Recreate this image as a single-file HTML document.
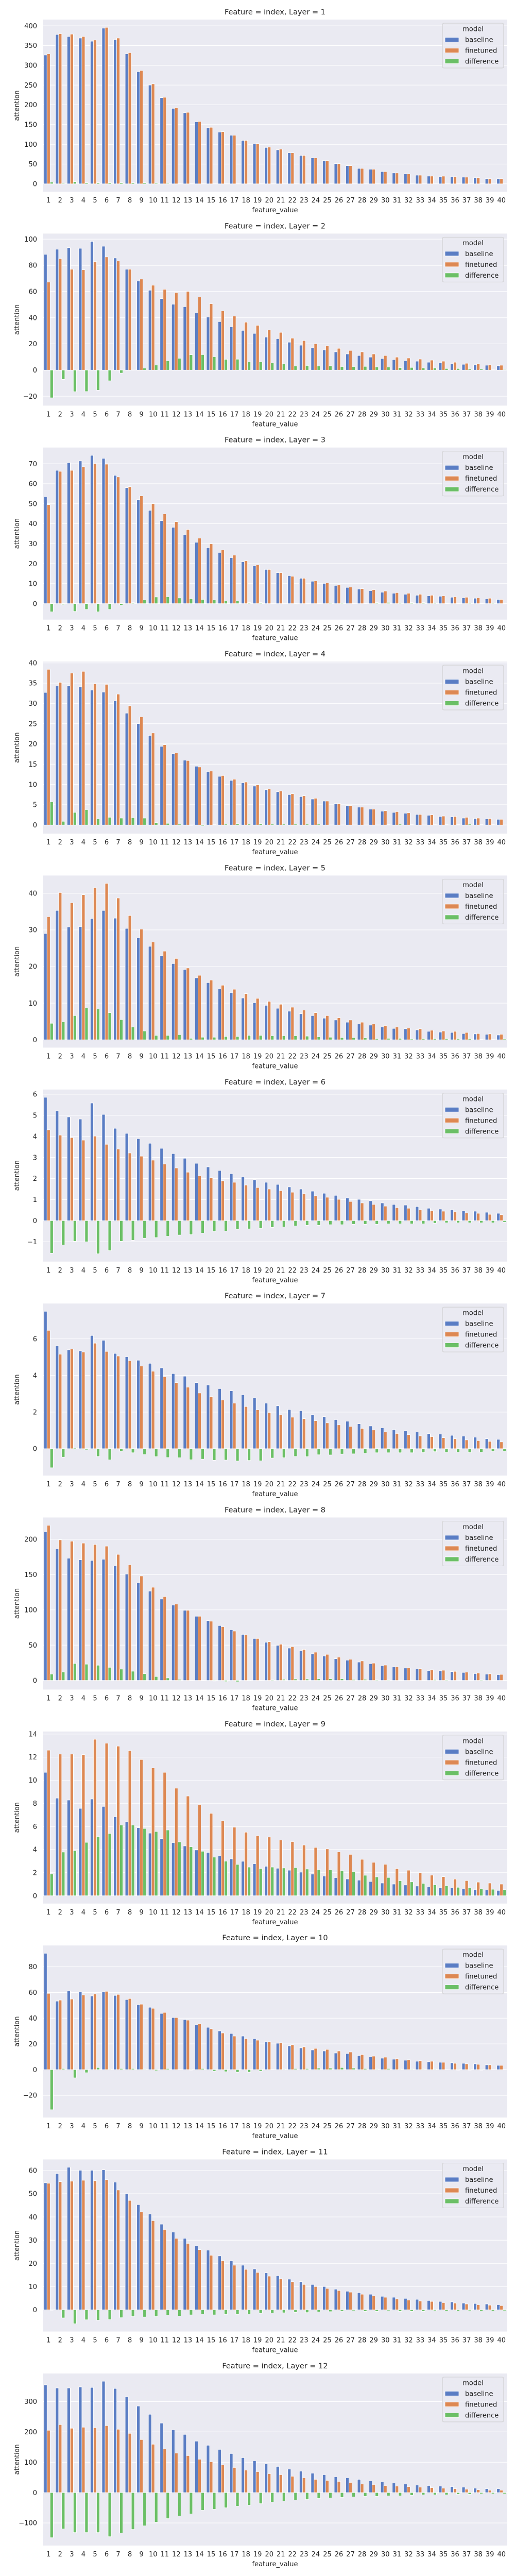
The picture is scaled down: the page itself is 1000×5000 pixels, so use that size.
<!DOCTYPE html>
<html><head><meta charset="utf-8">
<style>
html,body{margin:0;padding:0;background:#fff;}
svg{display:block;font-family:"DejaVu Sans","Liberation Sans",sans-serif;}
</style></head>
<body>
<svg id="fig" width="1000" height="5000" viewBox="0 0 1000 5000" xmlns="http://www.w3.org/2000/svg"></svg>
<script>
const categories = Array.from({length:40},(_,i)=>String(i+1));
const layers = [1,2,3,4,5,6,7,8,9,10,11,12];
const seriesNames = ["baseline","finetuned","difference"];
const tickSteps = [50,20,10,5,10,1,2,50,2,20,10,100];

const base1=[326,378,373,369,361,394,365,329,284,250,218,191,180,157,142,131,123,110,101,92,86,78.5,72,65.5,59,51,46,39,37,31,27.5,25,22,19.6,18,18,17,15.7,13,13];
const fin1=[329,380,379,373,364,396,369,332,287,253,219,193,181,158,143,132,123,110,102,93,88,78.5,72,65.5,59,51,46,39,37,31,27.5,25,22,19.6,19.5,18,17,15.7,13,13];
const diff1=[4.4,1.5,5.5,3,3,3,3,3,3,2,1.5,0.5,0.5,0.5,0.3,0.3,0.3,0.3,0.3,0.3,0.3,0.3,0.3,0.2,0.2,0.2,0.2,0.2,0.2,0.2,0.2,0.2,0.2,0.2,0.2,0.2,0.2,0.2,0.2,0.2];

const base2=[88.4,92.3,93.5,93,98.3,94.6,85.6,77,68,61,54.6,50.3,48.4,44,40.5,37,33,30.3,28,25.2,24,21.3,19,17,15.4,13.9,12.3,11.1,9.9,8.8,8,7.2,6.8,6,5.6,4.8,4.4,4,3.7,3.3];
const fin2=[67.2,85.2,77,76.6,82.9,86.4,83.3,77,69.5,64.8,61.7,59.3,60.1,55.8,50.7,45.2,41.3,36.6,34.2,30.7,28.8,24.4,22.5,20.1,18.6,16.6,15,13.9,12.3,11.1,9.9,9.2,8.4,7.6,6.8,6,5.2,4.8,4,3.7];
const diff2=[-21.2,-7.1,-16.5,-16.4,-15.4,-8.2,-2.3,0,1.5,3.8,7.1,9,11.7,11.8,10.2,8.2,8.3,6.3,6.2,5.5,4.8,3.1,3.5,3.1,3.2,2.7,2.7,2.8,2.4,2.3,1.9,2,1.6,1.6,1.2,1.2,0.8,0.8,0.3,0.4];

const base3=[53.6,66.7,70.6,71.4,74.2,72.7,64.2,58,52.1,46.7,41.5,38.2,34.6,30.7,28.1,25.6,23,20.9,18.9,17.1,15.5,14,12.7,11.2,10.1,9.1,8.1,7.3,6.5,5.7,5.2,4.7,4.2,3.9,3.7,3.2,2.9,2.7,2.4,2.1];
const fin3=[49.5,66.2,66.7,68.5,70.1,69.8,63.4,58.5,53.9,50,44.9,41,37.1,32.8,29.9,26.9,24.3,21.4,19.4,17.1,15.5,13.7,12.7,11.4,10.4,9.4,8.3,7.5,7,6.3,5.5,5.2,4.7,4.2,3.9,3.4,3.2,2.9,2.7,2.1];
const diff3=[-4.1,-0.5,-3.9,-2.9,-4.1,-2.9,-0.8,0.5,1.8,3.3,3.4,2.8,2.5,2.1,1.8,1.3,1.3,0.5,0.5,0,0,-0.3,0,0.2,0.3,0.3,0.2,0.2,0.5,0.6,0.3,0.5,0.5,0.3,0.2,0.2,0.3,0.2,0.3,0];

const base4=[32.7,34.3,34.4,34.1,33.3,32.8,30.6,27.6,25,22.1,19.4,17.6,16,14.5,13.2,12,11,10.4,9.6,8.7,8.2,7.5,7,6.4,5.9,5.3,4.8,4.4,3.9,3.4,3.1,2.9,2.6,2.4,2.1,2,1.7,1.6,1.5,1.4];
const fin4=[38.4,35.2,37.5,37.9,34.8,34.7,32.3,29.4,26.7,22.7,19.8,17.8,15.9,14.3,13.3,12.2,11.3,10.6,9.9,8.9,8.4,7.7,7.2,6.6,5.9,5.3,4.8,4.4,3.9,3.5,3.3,3,2.6,2.5,2.2,2.1,1.9,1.7,1.6,1.4];
const diff4=[5.7,0.9,3.1,3.8,1.5,1.9,1.7,1.8,1.7,0.6,0.4,0.2,-0.1,-0.2,0.1,0.2,0.3,0.2,0.3,0.2,0.2,0.2,0.2,0.2,0,0,0,0,0,0.1,0.2,0.1,0,0.1,0.1,0.1,0.2,0.1,0.1,0];

const base5=[29,35.3,30.8,30.9,33.1,35.3,33.2,30.4,27.8,25.5,23,20.8,19.2,16.9,15.6,14,12.9,11.4,10.1,9.4,8.6,7.8,7.1,6.6,5.9,5.4,4.8,4.3,4,3.5,3.1,3,2.7,2.3,2.1,2,1.7,1.6,1.5,1.3];
const fin5=[33.6,40.2,37.4,39.6,41.5,42.7,38.7,33.9,30.2,26.7,24.2,22.2,19.6,17.6,16.3,14.9,13.8,12.6,11.3,10.5,9.7,8.9,8.1,7.4,6.6,6,5.4,4.8,4.3,3.9,3.5,3.2,3,2.6,2.4,2.3,2,1.7,1.6,1.5];
const diff5=[4.5,4.9,6.6,8.7,8.4,7.4,5.5,3.5,2.4,1.2,1.2,1.4,0.4,0.7,0.7,0.9,0.9,1.2,1.2,1.1,1.1,1.1,1,0.8,0.7,0.6,0.6,0.5,0.3,0.4,0.4,0.2,0.3,0.3,0.3,0.3,0.3,0.1,0.1,0.2];

const base6=[5.85,5.21,4.92,4.82,5.58,5.04,4.38,4.14,3.89,3.67,3.43,3.18,2.96,2.72,2.55,2.38,2.23,2.08,1.94,1.82,1.72,1.6,1.5,1.4,1.3,1.2,1.08,1.01,0.94,0.84,0.77,0.74,0.67,0.59,0.55,0.52,0.47,0.45,0.4,0.35];
const fin6=[4.31,4.06,3.94,3.82,4.01,3.62,3.4,3.21,3.06,2.87,2.69,2.5,2.3,2.13,2.04,1.89,1.82,1.69,1.57,1.5,1.42,1.35,1.28,1.18,1.11,1.01,0.91,0.84,0.77,0.69,0.62,0.59,0.52,0.47,0.45,0.42,0.37,0.35,0.3,0.28];
const diff6=[-1.54,-1.15,-0.98,-1,-1.57,-1.42,-0.98,-0.93,-0.83,-0.8,-0.74,-0.68,-0.66,-0.59,-0.51,-0.49,-0.41,-0.39,-0.37,-0.32,-0.3,-0.25,-0.22,-0.22,-0.19,-0.19,-0.17,-0.17,-0.17,-0.15,-0.15,-0.15,-0.15,-0.12,-0.1,-0.1,-0.1,-0.1,-0.1,-0.07];

const base7=[7.5,5.62,5.4,5.34,6.18,5.92,5.2,5.02,4.83,4.66,4.41,4.1,3.96,3.61,3.48,3.28,3.16,2.94,2.78,2.49,2.34,2.14,2.07,1.86,1.75,1.59,1.5,1.36,1.24,1.14,1.05,0.99,0.91,0.82,0.8,0.73,0.69,0.63,0.54,0.51];
const fin7=[6.46,5.16,5.44,5.28,5.76,5.31,5.06,4.8,4.51,4.23,3.93,3.61,3.36,3.04,2.85,2.66,2.49,2.3,2.12,1.98,1.85,1.72,1.64,1.53,1.41,1.3,1.22,1.11,1.02,0.92,0.83,0.77,0.7,0.66,0.6,0.54,0.48,0.44,0.4,0.37];
const diff7=[-1.04,-0.46,0.04,-0.06,-0.42,-0.61,-0.14,-0.22,-0.32,-0.43,-0.48,-0.49,-0.6,-0.57,-0.63,-0.62,-0.67,-0.64,-0.66,-0.51,-0.49,-0.42,-0.43,-0.33,-0.34,-0.29,-0.28,-0.25,-0.22,-0.22,-0.22,-0.22,-0.21,-0.16,-0.2,-0.19,-0.21,-0.19,-0.14,-0.14];

const base8=[210.5,186.4,173.2,170.9,170,171.7,162.3,150.7,138.3,126.6,115.3,106.8,99.4,90.9,84.7,77.7,71.8,65.2,59.4,54,49.7,45.8,41.9,37.7,34.6,30.7,28.7,26,23.7,21,19,17.5,16.3,14,13.6,12.4,11.3,9.7,8.9,8.2];
const fin8=[219.8,199.2,197.3,194.6,192.6,190.3,178.6,163.9,148,132,118.8,108.3,99.4,90.9,83.9,76.1,69.9,64.5,59.4,54.8,51.3,47.8,43.9,40,36.9,33,29.9,27.6,24.5,21.7,19.4,17.9,16.7,15.1,14.4,12.8,11.7,10.5,9.3,8.5];
const diff8=[9,12,24,23,21.5,18.5,16,13,9.5,5.5,3.5,1.5,0,0,-0.8,-1.6,-1.9,-0.7,0,0.8,1.6,2,2,2.3,2.3,2.3,1.2,1.6,0.8,0.7,0.4,0.4,0.4,1.1,0.8,0.4,0.4,0.8,0.4,0.3];

const base9=[10.68,8.45,8.28,7.56,8.37,7.73,6.83,6.4,5.89,5.42,4.95,4.6,4.31,3.96,3.75,3.45,3.19,2.98,2.77,2.55,2.38,2.21,2.04,1.87,1.7,1.57,1.45,1.35,1.23,1.1,1.01,0.93,0.84,0.8,0.71,0.67,0.58,0.54,0.5,0.46];
const fin9=[12.6,12.26,12.26,12.22,13.54,13.2,12.95,12.56,11.79,11.06,10.68,9.31,8.63,7.9,7.13,6.49,5.93,5.5,5.2,5.08,4.82,4.69,4.39,4.18,4.05,3.79,3.58,3.15,2.89,2.72,2.34,2.21,2,1.78,1.65,1.44,1.31,1.18,1.1,1.01];
const diff9=[1.88,3.78,3.9,4.62,5.13,5.39,6.12,6.12,5.82,5.56,5.69,4.66,4.24,3.85,3.34,2.99,2.71,2.48,2.36,2.48,2.4,2.43,2.31,2.27,2.27,2.18,2.1,1.77,1.63,1.58,1.3,1.2,1.07,0.94,0.86,0.73,0.69,0.6,0.56,0.53];

const base10=[90.5,53.3,61.3,60.5,57.3,60.5,57.7,54.5,50.5,48.5,43.7,40.5,38.9,34.9,32.9,30.1,28.1,26.1,24.1,21.7,20.5,18.5,16.9,15.3,14.5,12.9,12.5,10.9,10.1,8.9,8.1,7.3,6.5,6.1,5.7,5.3,4.9,4.5,3.7,3.3];
const fin10=[59.3,54.1,54.9,58.1,58.9,60.9,58.5,55.3,50.9,47.7,44.5,40.5,38.5,35.7,31.7,28.5,26.1,24.1,22.9,21.7,20.9,19.3,17.7,16.5,15.7,14.5,13.7,11.7,10.5,9.7,8.5,7.7,6.9,6.5,5.7,4.9,4.5,4.1,3.7,3.3];
const diff10=[-31.2,0.8,-6.4,-2.4,1.6,0.4,0.8,0.8,0.4,-0.8,0.8,0,-0.4,0.8,-1.2,-1.6,-2,-2,-1.2,0,0.4,0.8,0.8,1.2,1.2,1.6,1.2,0.8,0.4,0.8,0.4,0.4,0.4,0.4,0,-0.4,-0.4,-0.4,0,0];

const base11=[54.7,58.7,61.4,60.1,60.1,60.3,55,50,45.3,41.3,36.9,33.5,30.8,27.7,25.7,23.2,21.2,19.2,17.6,15.9,14.7,13.2,12.1,10.9,10,8.9,8,7.4,6.7,5.8,5.4,4.9,4.5,4,3.6,3.4,2.9,2.7,2.5,2.2];
const fin11=[54.5,55.2,55.4,55.8,55.6,56.1,51.6,47.1,42.2,38.4,34.6,30.8,28.6,25.9,23.5,21.2,19.2,17.4,16.1,14.5,13.4,12.1,10.9,10,9.2,8.3,7.6,6.7,6,5.4,4.7,4.2,3.8,3.6,3.1,2.9,2.5,2.2,2,1.8];
const diff11=[-0.2,-3.5,-6,-4.3,-4.5,-4.2,-3.4,-2.9,-3.1,-2.9,-2.3,-2.7,-2.2,-1.8,-2.2,-2,-2,-1.8,-1.5,-1.4,-1.3,-1.1,-1.2,-0.9,-0.8,-0.6,-0.4,-0.7,-0.7,-0.4,-0.7,-0.7,-0.7,-0.4,-0.5,-0.5,-0.4,-0.5,-0.5,-0.4];

const base12=[355,344.8,344.8,348.2,346.5,366.9,343.1,315.9,285.3,258,229.1,207,191.7,169.6,156,142.3,128.7,115.1,104.9,94.7,86.2,77.7,70.9,64.1,59,52.2,48.8,43.7,38.6,35.2,31.8,28.4,25,23.3,21.6,19.8,18.1,14.7,13,13];
const fin12=[205.3,224,212.1,215.5,213.8,220.6,208.7,195.1,174.7,159.4,144.1,130.4,121.9,110,101.5,91.3,82.8,74.3,69.2,62.4,59,53.9,48.8,43.7,40.3,36.9,33.5,28.4,26.7,23.3,21.6,19.8,18.1,16.4,14.7,13,11.3,9.6,7.9,7.9];
const diff12=[-148.6,-119.7,-131.6,-131.6,-131.6,-145.2,-133.3,-121.4,-109.5,-97.5,-85.6,-77.1,-70.3,-58.4,-55,-49.9,-44.8,-41.4,-36.3,-31.2,-27.8,-24.4,-22.7,-19.3,-17.6,-15.9,-14.2,-12.5,-12.5,-10.8,-10.8,-9.1,-7.4,-7.4,-7.4,-5.7,-5.7,-4,-4,-4];

const baselines=[base1,base2,base3,base4,base5,base6,base7,base8,base9,base10,base11,base12];
const finetunes=[fin1,fin2,fin3,fin4,fin5,fin6,fin7,fin8,fin9,fin10,fin11,fin12];
const diffs=[diff1,diff2,diff3,diff4,diff5,diff6,diff7,diff8,diff9,diff10,diff11,diff12];

const NS="http://www.w3.org/2000/svg";
const fig=document.getElementById('fig');
const COLORS=["#5a7dc4","#dd8853","#6bbf66"];
const X0=83, X1=985, PH=334, PITCH=415.35, TOP0=38;
function mk(tag,parent,attrs,text){const e=document.createElementNS(NS,tag);for(const k in attrs)e.setAttribute(k,attrs[k]);if(text!==undefined)e.textContent=text;parent.appendChild(e);return e;}
function fmt(v){const s=String(Math.round(v*1000)/1000);return v<0?"\u2212"+s.slice(1):s;}

layers.forEach((layer,k)=>{
  const T=TOP0+k*PITCH;
  const series=[baselines[k],finetunes[k],diffs[k]];
  const all=[].concat(...series,0);
  const dmin=Math.min(...all), dmax=Math.max(...all);
  const pad=(dmax-dmin)*0.05;
  const lo=dmin-pad, hi=dmax+pad;
  const yScale=v=>T+PH-(v-lo)/(hi-lo)*PH;
  const slot=(X1-X0)/categories.length;
  const xScale=i=>X0+i*slot;
  const g=mk('g',fig,{});
  
  
  const bg=mk('rect',g,{x:X0,y:T,width:X1-X0,height:PH,fill:'#eaeaf2'});
  
  
  const title=mk('text',g,{x:(X0+X1)/2,y:T-10,'text-anchor':'middle','font-size':'14.5',fill:'#262626'},'Feature = index, Layer = '+layer);
  
  
  const step=tickSteps[k];
  for(let t=Math.ceil(lo/step)*step;t<=hi+1e-9;t+=step){
    const y=yScale(t);
    const gl=mk('line',g,{x1:X0,x2:X1,y1:y,y2:y,stroke:'#ffffff','stroke-width':1.1});
    
    
    const tl=mk('text',g,{x:72,y:y+4.7,'text-anchor':'end','font-size':'13',fill:'#262626'},fmt(t));
    
    
  }
  const bw=slot*0.8/3;
  categories.forEach((c,i)=>{
    series.forEach((arr,j)=>{
      const v=arr[i];
      const x=xScale(i)+slot*0.1+j*bw;
      const y0=yScale(0), y1=yScale(v);
      const r=mk('rect',g,{x:x,y:Math.min(y0,y1),width:bw,height:Math.max(Math.abs(y1-y0),0.3),fill:COLORS[j],stroke:'#ffffff','stroke-width':0.8});
      
      
    });
    const xl=mk('text',g,{x:xScale(i)+slot/2,y:T+355,'text-anchor':'middle','font-size':'13',fill:'#262626'},c);
    
    
  });
  const xt=mk('text',g,{x:(X0+X1)/2,y:T+374,'text-anchor':'middle','font-size':'13',fill:'#262626'},'feature_value');
  
  
  const cy=T+PH/2;
  const yt=mk('text',g,{x:37,y:cy,'text-anchor':'middle','font-size':'13',fill:'#262626',transform:'rotate(-90 37 '+cy+')'},'attention');
  
  
  const lg=mk('g',g,{});
  
  
  mk('rect',lg,{x:859,y:T+7,width:119,height:87,rx:3,fill:'#eaeaf2','fill-opacity':0.85,stroke:'#cccccc','stroke-width':1});
  const lt=mk('text',lg,{x:918.5,y:T+22.5,'text-anchor':'middle','font-size':'13',fill:'#262626'},'model');
  
  
  seriesNames.forEach((n,j)=>{
    const yy=T+39+j*21;
    const sw=mk('rect',lg,{x:864,y:yy-4.5,width:27,height:9,fill:COLORS[j],stroke:'#ffffff','stroke-width':0.8});
    
    
    const tx=mk('text',lg,{x:903,y:yy+4.5,'font-size':'13',fill:'#262626'},n);
    
    
  });
});
</script>
</body></html>
